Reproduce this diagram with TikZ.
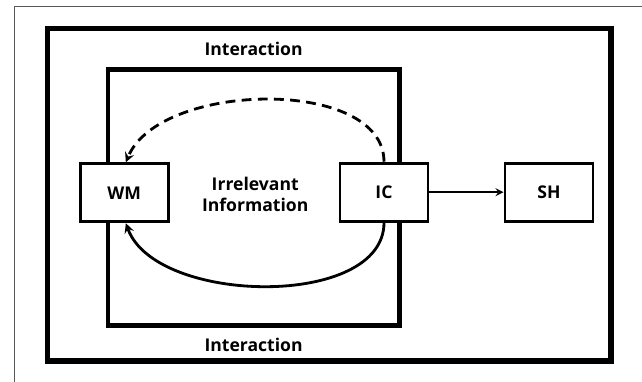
\documentclass[tikz,border=0pt]{standalone}
\usepackage{fontspec}
\setmainfont{Open Sans}
\usetikzlibrary{arrows}

\begin{document}
\begin{tikzpicture}[
  box/.style={rectangle,draw,line width=2.1pt,fill=white,minimum width=2.2cm,minimum height=1.45cm,font=\bfseries\fontsize{12.5}{14}\selectfont},
  every label-text/.style={font=\bfseries\fontsize{12.5}{15}\selectfont,align=center},
  flow/.style={line width=2pt,-stealth},
  ]

\useasboundingbox (0,0) rectangle (16.05,9.525);
\draw[gray!70!black,line width=0.7pt] (0.35,-1) -- (0.35,9.375) -- (17,9.375);

% frames
\draw[line width=3.9pt] (1.1875,0.5) rectangle (15.275,8.8125);
\draw[line width=3pt] (2.7,1.3875) rectangle (9.9875,7.7875);

\node[box] (WM) at (3.106,4.706) {WM};
\node[box] (IC) at (9.6,4.72) {IC};
\node[box] (SH) at (13.725,4.72) {SH};

\node[every label-text/.try] (inter-top) at (6.34,8.3) {Interaction};
\node[every label-text/.try] (inter-bot) at (6.34,0.9) {Interaction};
\node[every label-text/.try] (irrel) at (6.38,4.66) {Irrelevant\\Information};

\draw[flow,dash pattern=on 7pt off 4.5pt] (IC.north) .. controls (9.6,7.6) and (4.0,7.5) .. ([xshift=0.04cm]WM.north);
\draw[flow] (IC.south) .. controls (9.6,1.8) and (3.9,1.9) .. ([xshift=0.04cm]WM.south);
\draw[line width=1.5pt,-stealth] (IC.east) -- (SH.west);

\end{tikzpicture}
\end{document}
